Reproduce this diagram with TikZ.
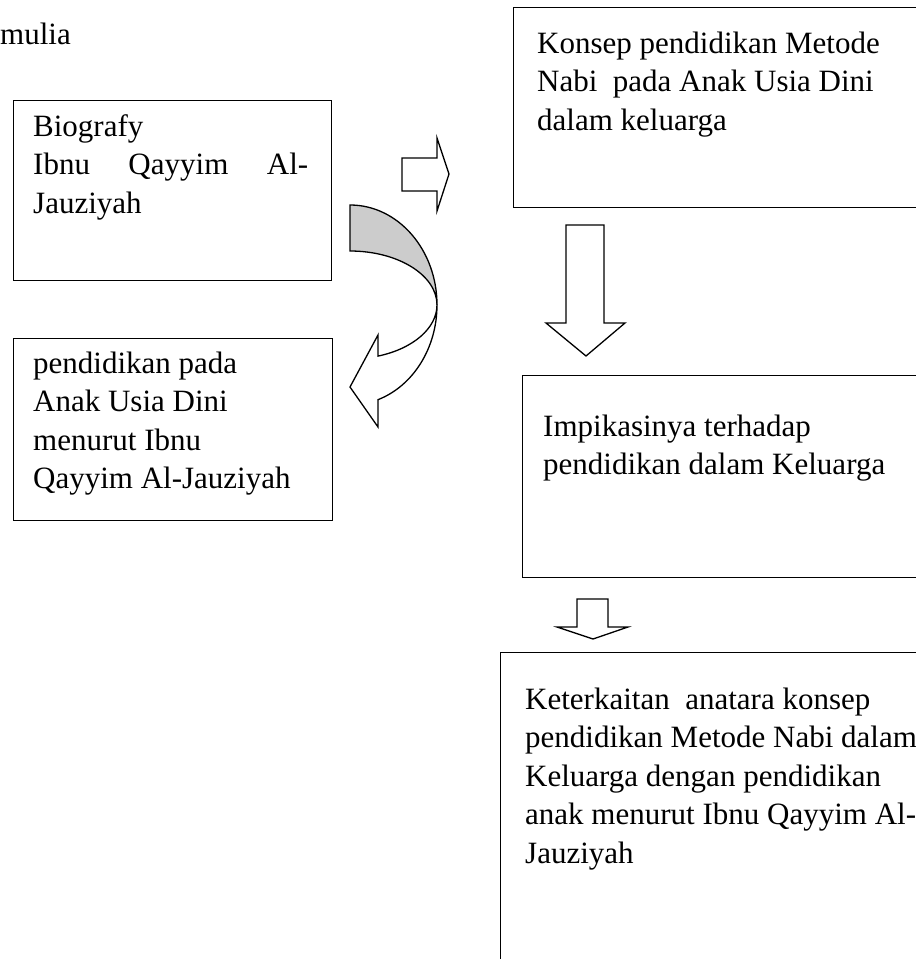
\documentclass[tikz,border=0pt]{standalone}
\usepackage{fontspec}
\setmainfont{Liberation Serif}
\definecolor{bandgray}{gray}{0.8}
\begin{document}
\begin{tikzpicture}[x=1pt,y=1pt,
  box/.style={draw=black, line width=1.3pt, anchor=north west, inner sep=0pt},
  txt/.style={anchor=north west, inner sep=0pt, align=left, font=\fontsize{31}{38.5}\selectfont},
  blockarrow/.style={draw=black, line width=1.3pt, line join=miter, fill=white},
  band/.style={draw=black, line width=1.3pt, fill=bandgray}
]
\useasboundingbox (0,0) rectangle (916,-959);
\clip (0,0) rectangle (916,-959);

% text at top left
\node[anchor=base west, inner sep=0pt, font=\fontsize{31}{38.5}\selectfont] (mulia) at (0,-44) {mulia};

% boxes
\node[box, minimum width=430pt, minimum height=200pt] (konsep) at (513,-7) {};
\node[box, minimum width=318pt, minimum height=180pt] (bio) at (13,-100) {};
\node[box, minimum width=319pt, minimum height=182pt] (pend) at (13,-338) {};
\node[box, minimum width=420pt, minimum height=202pt] (imp) at (522,-375) {};
\node[box, minimum width=440pt, minimum height=340pt] (ket) at (500,-652) {};

% texts
\node[txt] (tkonsep) at (537,-26) {\strut Konsep pendidikan Metode\\ Nabi\ \ pada Anak Usia Dini\\ dalam keluarga};
\node[txt] (tbio) at (33,-109) {\strut Biografy\\ \hbox to 275pt{Ibnu\hfill Qayyim\hfill Al-}\\ Jauziyah};
\node[txt] (tpend) at (33,-346) {\strut pendidikan pada\\ Anak Usia Dini\\ menurut Ibnu\\ Qayyim Al-Jauziyah};
\node[txt] (timp) at (543,-409) {\strut Impikasinya terhadap\\ pendidikan dalam Keluarga};
\node[txt] (tket) at (525,-682) {\strut Keterkaitan\ \ anatara konsep\\ pendidikan Metode Nabi dalam\\ Keluarga dengan pendidikan\\ anak menurut Ibnu Qayyim Al-\\ Jauziyah};

% right block arrow
\draw[blockarrow] (402,-158) -- (437,-158) -- (437,-138) -- (449,-174) -- (437,-211) -- (437,-191) -- (402,-191) -- cycle;

% down block arrow
\draw[blockarrow] (566,-225) -- (604,-225) -- (604,-323) -- (625,-323) -- (586,-356) -- (546,-323) -- (566,-323) -- cycle;

% small down block arrow
\draw[blockarrow] (577,-599) -- (608,-599) -- (608,-627) -- (628,-627) -- (593,-639) -- (557,-627) -- (577,-627) -- cycle;

% curved arrow: grey back part
\draw[band] (350,-205) arc[start angle=90, end angle=0, x radius=87, y radius=100]
  arc[start angle=0, end angle=90, x radius=87, y radius=54] -- cycle;
% curved arrow: white front part with head
\draw[blockarrow] (437,-305) arc[start angle=0, end angle=-71.2, x radius=87, y radius=100]
  -- (378,-427) -- (350,-387) -- (378,-335) -- (378,-356.1)
  arc[start angle=-71.2, end angle=0, x radius=87, y radius=54] -- cycle;
\end{tikzpicture}
\end{document}
